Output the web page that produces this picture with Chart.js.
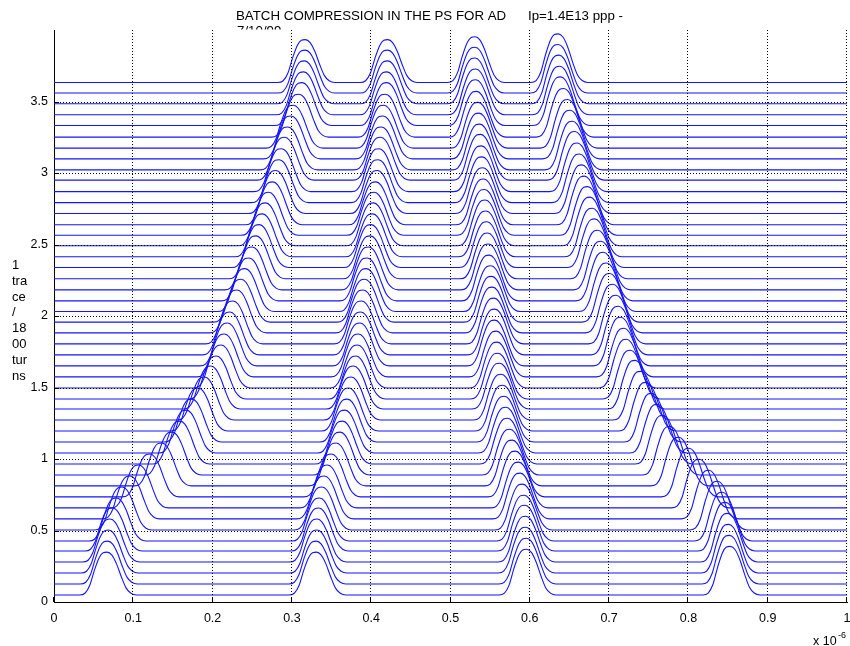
<!DOCTYPE html>
<html><head><meta charset="utf-8">
<script src="https://cdn.jsdelivr.net/npm/chart.js@4.4.0/dist/chart.umd.min.js"></script>
<style>html,body{margin:0;padding:0;background:#fff}canvas{display:block}</style>
</head><body>
<canvas id="c" width="850" height="646"></canvas>
<script>
// One trace every 1800 turns: vertical offset of each trace (bottom to top)
const baselines = [0.049,0.126,0.203,0.280,0.357,0.427,0.504,0.581,0.658,0.735,
  0.812,0.888,0.965,1.042,1.119,1.196,1.273,1.350,1.420,1.497,
  1.574,1.651,1.728,1.805,1.882,1.957,2.031,2.106,2.183,2.260,
  2.339,2.414,2.491,2.565,2.638,2.717,2.793,2.870,2.950,3.022,
  3.099,3.174,3.251,3.332,3.407,3.484,3.559,3.633];

// Centre of each of the four bunches in every trace (units of 1e-6 s)
const bunch1 = [0.066,0.067,0.068,0.070,0.073,0.078,0.085,0.095,0.106,0.120,
  0.135,0.148,0.158,0.166,0.173,0.181,0.189,0.197,0.204,0.210,
  0.214,0.218,0.221,0.225,0.230,0.235,0.240,0.245,0.249,0.254,
  0.258,0.262,0.266,0.270,0.275,0.279,0.283,0.286,0.290,0.294,
  0.298,0.301,0.308,0.312,0.314,0.315,0.316,0.316];
const bunch2 = [0.330,0.330,0.331,0.331,0.333,0.334,0.337,0.340,0.344,0.349,
  0.355,0.360,0.363,0.366,0.369,0.371,0.374,0.377,0.380,0.382,
  0.383,0.385,0.386,0.387,0.389,0.391,0.393,0.394,0.396,0.398,
  0.399,0.401,0.402,0.403,0.405,0.407,0.408,0.409,0.411,0.412,
  0.414,0.415,0.417,0.419,0.419,0.420,0.420,0.420];
const bunch3 = [0.595,0.595,0.594,0.594,0.593,0.592,0.590,0.587,0.585,0.581,
  0.577,0.574,0.571,0.569,0.567,0.565,0.563,0.561,0.559,0.558,
  0.557,0.555,0.555,0.554,0.552,0.551,0.550,0.548,0.547,0.546,
  0.545,0.544,0.543,0.542,0.541,0.540,0.539,0.538,0.537,0.536,
  0.535,0.534,0.532,0.531,0.531,0.530,0.530,0.530];
const bunch4 = [0.852,0.851,0.850,0.849,0.846,0.842,0.836,0.825,0.813,0.800,
  0.787,0.776,0.767,0.760,0.753,0.746,0.739,0.732,0.726,0.721,
  0.718,0.714,0.711,0.708,0.704,0.700,0.696,0.692,0.689,0.685,
  0.681,0.678,0.675,0.672,0.668,0.665,0.662,0.659,0.656,0.653,
  0.650,0.647,0.642,0.638,0.637,0.636,0.635,0.635];

// Peak height of each bunch above its trace
const bunchHeights = [0.30,0.30,0.32,0.34];

// Longitudinal profile of one bunch: time offset from centre and relative height
const pulseDx    = [-0.034,-0.027,-0.021,-0.015,-0.009,-0.004,0.001,0.007,0.013,0.019,0.025,0.031,0.038];
const pulseShape = [0,0.04,0.22,0.58,0.87,0.985,1,0.93,0.72,0.42,0.16,0.04,0];

const xTicks = [0,0.1,0.2,0.3,0.4,0.5,0.6,0.7,0.8,0.9,1];
const yTicks = [0,0.5,1,1.5,2,2.5,3,3.5];
const yLabelLines = ['1','tra','ce','/','18','00','tur','ns'];
const titleMain = 'BATCH COMPRESSION IN THE PS FOR AD';
const titleIntensity = 'Ip=1.4E13 ppp -';
const titleDate = '7/10/99';

const FONT = '"Liberation Sans", Arial, Helvetica, sans-serif';
const centres = [bunch1, bunch2, bunch3, bunch4];

const datasets = baselines.map((b, i) => {
  const pts = [{x: 0, y: b}];
  centres.forEach((c, k) => {
    pulseDx.forEach((dx, j) => pts.push({x: c[i] + dx, y: b + bunchHeights[k] * pulseShape[j]}));
  });
  pts.push({x: 1, y: b});
  return {
    data: pts,
    borderColor: '#1414ff',
    borderWidth: 1.1,
    pointRadius: 0,
    fill: false,
    cubicInterpolationMode: 'monotone'
  };
});

// Dotted grid, inward tick marks and the free text around the axes
const decorations = {
  id: 'decorations',
  afterDatasetsDraw(chart) {
    const {ctx, chartArea: a, scales: {x, y}} = chart;
    ctx.save();
    ctx.strokeStyle = '#000';
    ctx.lineWidth = 1;
    ctx.setLineDash([1, 2]);
    xTicks.forEach(v => {
      if (v === 0) return;
      const px = Math.round(x.getPixelForValue(v)) - 0.5;
      ctx.beginPath(); ctx.moveTo(px, a.top); ctx.lineTo(px, a.bottom); ctx.stroke();
    });
    yTicks.forEach(v => {
      if (v === 0) return;
      const py = Math.round(y.getPixelForValue(v)) + 0.5;
      ctx.beginPath(); ctx.moveTo(a.left, py); ctx.lineTo(a.right, py); ctx.stroke();
    });
    ctx.setLineDash([]);
    xTicks.forEach(v => {
      const px = Math.round(x.getPixelForValue(v)) - 0.5;
      ctx.beginPath(); ctx.moveTo(px, a.bottom); ctx.lineTo(px, a.bottom - 5); ctx.stroke();
    });
    yTicks.forEach(v => {
      const py = Math.round(y.getPixelForValue(v)) + 0.5;
      ctx.beginPath(); ctx.moveTo(a.left, py); ctx.lineTo(a.left + 5, py); ctx.stroke();
    });
    ctx.restore();
  },
  afterDraw(chart) {
    const {ctx, chartArea: a} = chart;
    ctx.save();
    ctx.fillStyle = '#000';
    ctx.textBaseline = 'alphabetic';
    ctx.textAlign = 'left';
    ctx.font = '13.3px ' + FONT;
    ctx.fillText(titleMain, 236, 19.5);
    ctx.fillText(titleIntensity, 528, 19.5);
    // second title line sits under the top of the axes
    ctx.save();
    ctx.beginPath(); ctx.rect(0, 0, 850, a.top - 0.5); ctx.clip();
    ctx.fillText(titleDate, 237, 35);
    ctx.restore();
    // y-axis label, wrapped into a narrow column
    ctx.font = '13px ' + FONT;
    yLabelLines.forEach((t, i) => ctx.fillText(t, 12, 269 + i * 15.8));
    // x-axis exponent
    ctx.font = '12.5px ' + FONT;
    ctx.fillText('x 10', 813, 645);
    ctx.font = '9px ' + FONT;
    ctx.fillText('-6', 838, 638);
    ctx.restore();
  }
};

new Chart(document.getElementById('c'), {
  type: 'line',
  data: {datasets},
  options: {
    responsive: false,
    animation: false,
    devicePixelRatio: 1,
    layout: {padding: {top: 30, right: 3, bottom: 0, left: 0}},
    plugins: {legend: {display: false}, tooltip: {enabled: false}, title: {display: false}},
    scales: {
      x: {
        type: 'linear', min: 0, max: 1,
        afterBuildTicks: s => { s.ticks = xTicks.map(v => ({value: v})); },
        afterFit: s => { s.height = 44; s.paddingLeft = 0; s.paddingRight = 0; },
        ticks: {font: {family: FONT, size: 12.5}, color: '#000', padding: 9, maxRotation: 0, autoSkip: false,
                callback: v => String(v)},
        grid: {display: false, drawTicks: false},
        border: {display: true, color: '#000', width: 1}
      },
      y: {
        type: 'linear', min: 0, max: 4,
        afterBuildTicks: s => { s.ticks = yTicks.map(v => ({value: v})); },
        afterFit: s => { s.width = 54; s.paddingTop = 0; s.paddingBottom = 0; },
        ticks: {font: {family: FONT, size: 12.5}, color: '#000', padding: 6, autoSkip: false,
                callback: v => String(v)},
        grid: {display: false, drawTicks: false},
        border: {display: true, color: '#000', width: 1}
      }
    }
  },
  plugins: [decorations]
});
</script>
</body></html>
